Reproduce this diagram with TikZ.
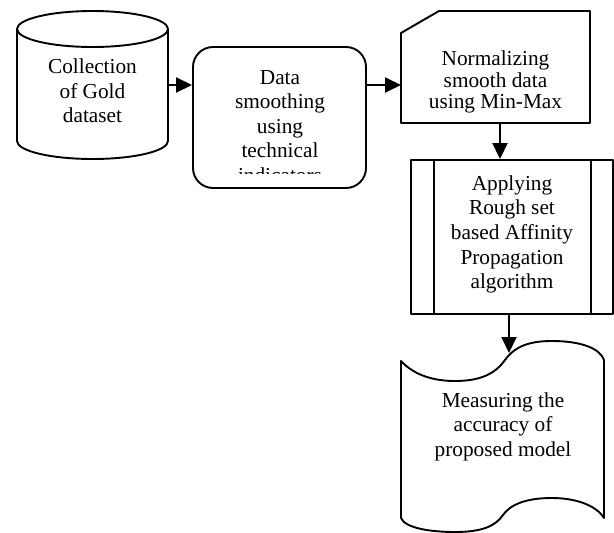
\documentclass[tikz,border=0pt]{standalone}
\usepackage{fontspec}
\setmainfont{Liberation Serif}
\usetikzlibrary{arrows.meta}
\begin{document}
\begin{tikzpicture}[x=1pt,y=-1pt,
  shp/.style={draw, line width=1.9pt, line join=round},
  ghost/.style={inner sep=0pt, outer sep=0pt},
  txt/.style={inner sep=0pt, align=center, font=\fontsize{21.3}{24.6}\selectfont},
  arr/.style={line width=1.9pt, -{Triangle[length=16pt,width=15pt]}}]
\useasboundingbox (0,0) rectangle (614,533);

% cylinder
\node[ghost, minimum width=151pt, minimum height=148pt] (a) at (92.5,85) {};
\draw[shp] (92.5,29) ellipse [x radius=75.5, y radius=18];
\draw[shp] (17,29) -- (17,141) arc[start angle=180, end angle=0, x radius=75.5, y radius=18] -- (168,29);
\node[txt] (at) at (92.5,91) {Collection\\of Gold\\dataset};

% rounded box
\node[shp, rounded corners=20pt, minimum width=173pt, minimum height=141pt, inner sep=0pt] (b) at (279.5,117.5) {};
\begin{scope}
\clip (193,47) rectangle (366,173);
\node[txt] (bt) at (280,126.5) {Data\\smoothing\\using\\technical\\indicators};
\end{scope}

% card
\node[ghost, minimum width=189pt, minimum height=112pt] (c) at (495.5,67) {};
\draw[shp] (401,33) -- (439,11) -- (590,11) -- (590,123) -- (401,123) -- cycle;
\node[txt, font=\fontsize{21.3}{21.5}\selectfont] (ct) at (495.5,82) {Normalizing\\smooth data\\using Min-Max};

% predefined process
\node[shp, minimum width=202pt, minimum height=154pt, inner sep=0pt] (d) at (512,237) {};
\draw[shp] ([xshift=24pt]d.north west) -- ([xshift=24pt]d.south west)
           ([xshift=-23pt]d.north east) -- ([xshift=-23pt]d.south east);
\node[txt] (dt) at (512,234.5) {Applying\\Rough set\\based Affinity\\Propagation\\algorithm};

% document
\node[ghost, minimum width=203pt, minimum height=191pt] (e) at (502.5,436.5) {};
\draw[shp] (401,361) .. controls (415,376) and (435,381) .. (455,381)
  .. controls (480,381) and (495,374) .. (505,360)
  .. controls (515,346) and (530,341) .. (552,341)
  .. controls (580,341) and (600,348) .. (604,360)
  -- (604,518)
  .. controls (596,505) and (575,498) .. (552,498)
  .. controls (525,498) and (510,505) .. (503,515)
  .. controls (495,527) and (480,532) .. (455,532)
  .. controls (430,532) and (405,528) .. (401,518) -- cycle;
\coordinate (etop) at (509,353);
\node[txt] (et) at (503,426.5) {Measuring the\\accuracy of\\proposed model};

% connectors
\draw[arr] (a.east) -- (b.west |- a.east);
\draw[arr] (b.east |- a.east) -- (c.west |- a.east);
\draw[arr] ([xshift=4.5pt]c.south) -- ([xshift=4.5pt]c.south |- d.north);
\draw[arr] ([xshift=-3pt]d.south) -- (etop);
\end{tikzpicture}
\end{document}
